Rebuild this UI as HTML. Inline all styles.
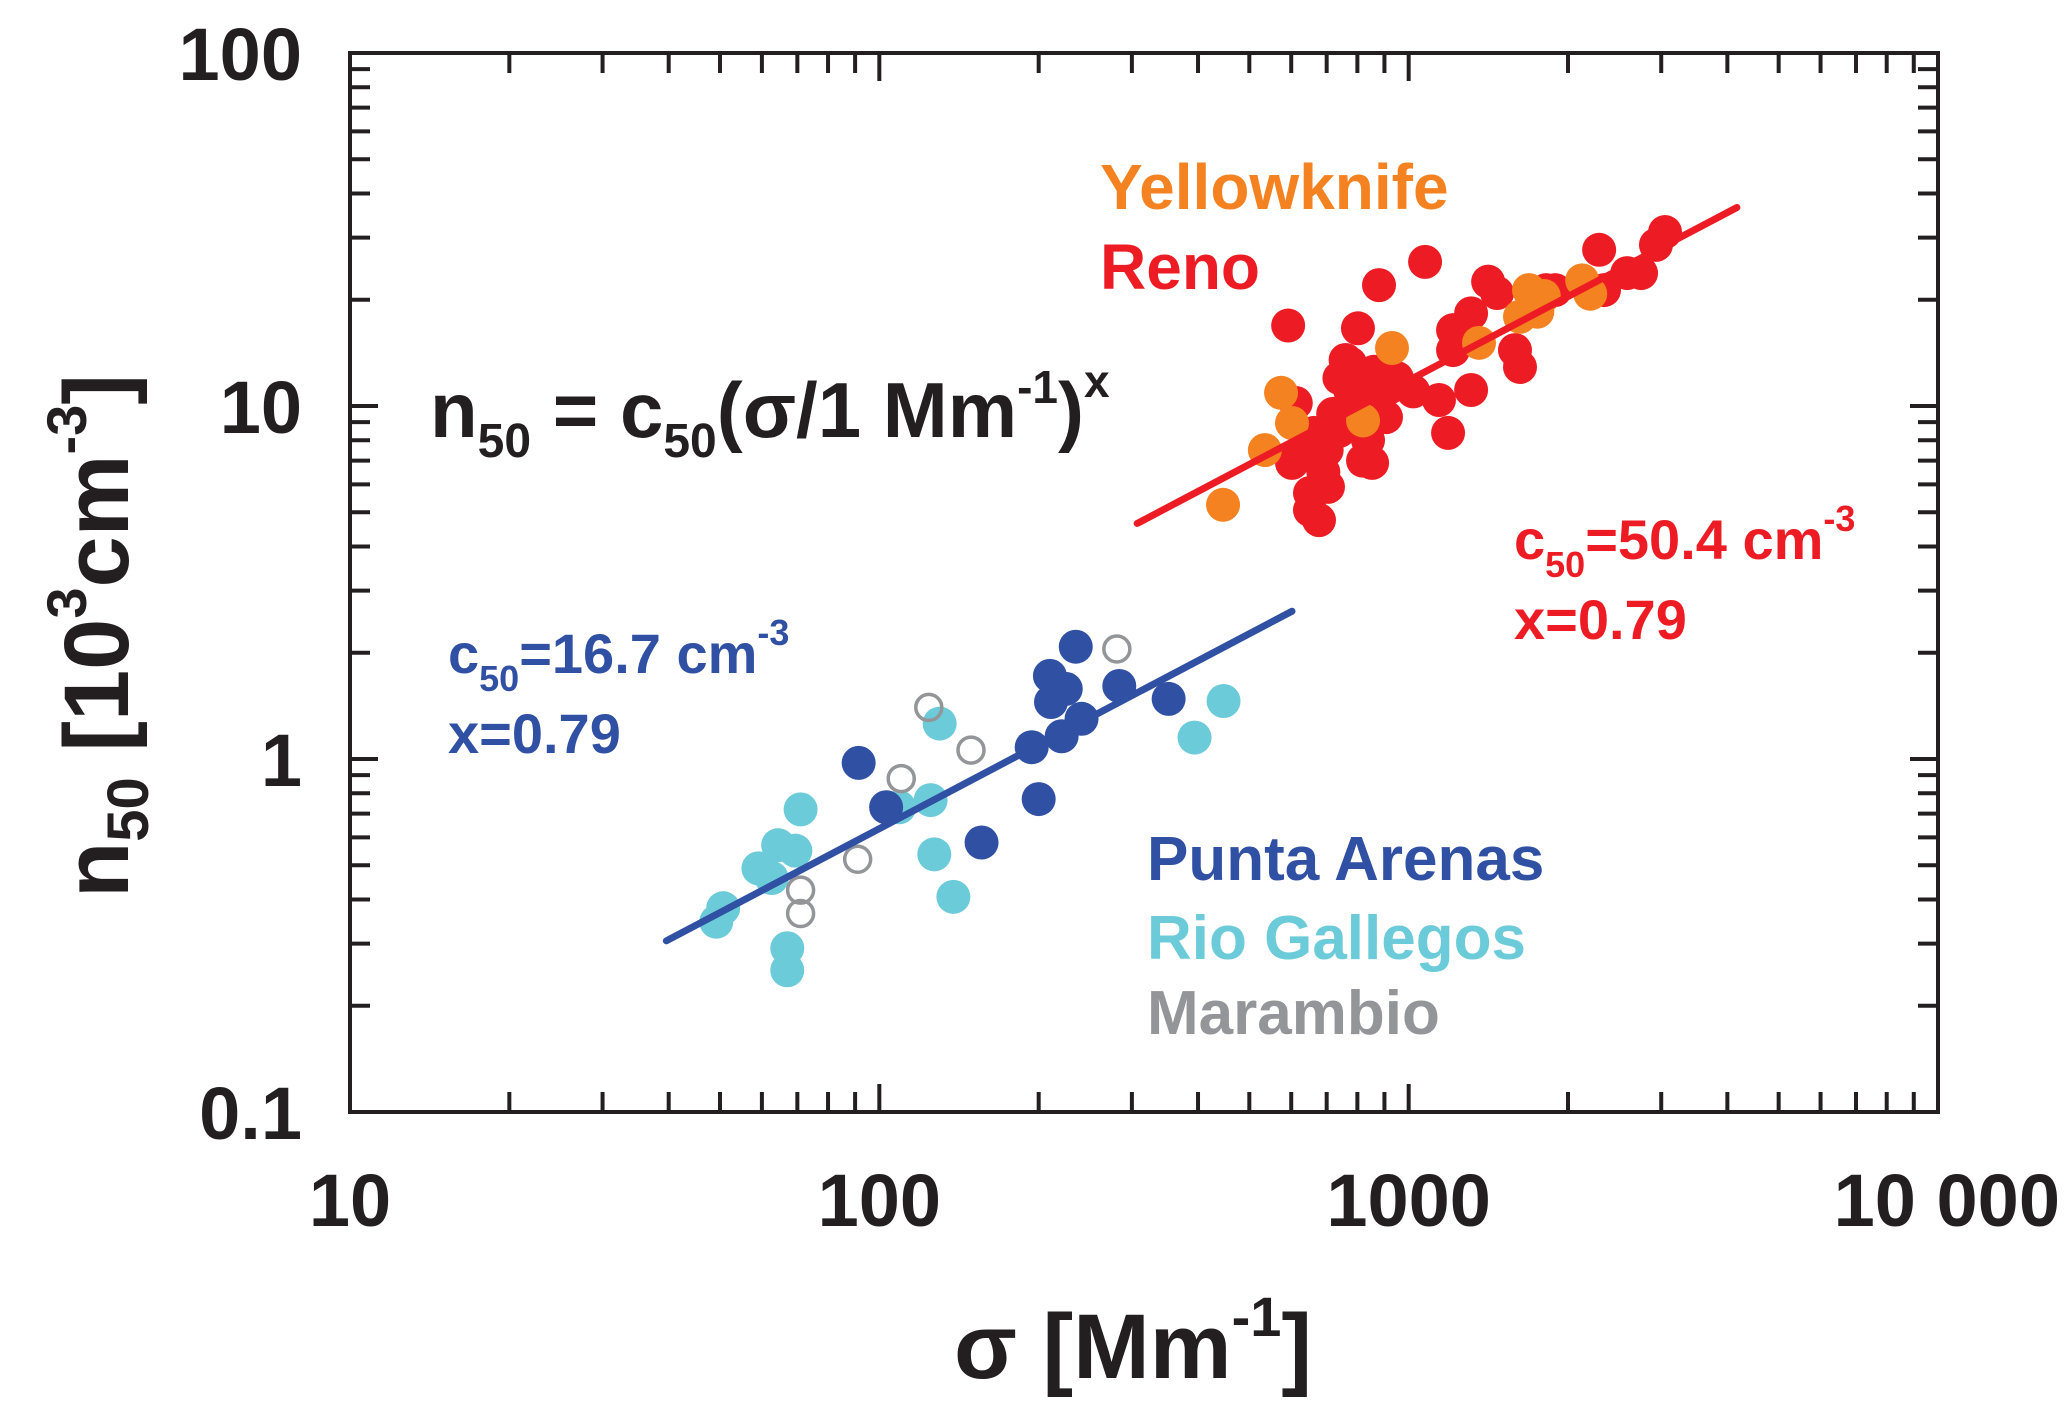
<!DOCTYPE html>
<html><head><meta charset="utf-8"><style>
html,body{margin:0;padding:0;background:#fff;}
svg{display:block;font-family:"Liberation Sans",Arial,sans-serif;font-weight:bold;}
</style></head><body>
<svg id="chart" width="2067" height="1406" viewBox="0 0 2067 1406" xmlns="http://www.w3.org/2000/svg">
<g id="marks"></g>
<rect x="350" y="53" width="1588" height="1059" fill="none" stroke="#231f20" stroke-width="4"/>
<g id="ticks"></g>
<g id="ylabels" font-size="74" fill="#231f20" text-anchor="end"></g>
<g id="xlabels" font-size="74" fill="#231f20" text-anchor="middle"></g>
<text x="1133" y="1378" font-size="92" fill="#231f20" text-anchor="middle">σ [Mm<tspan font-size="56" dy="-42">-1</tspan><tspan dy="42">]</tspan></text>
<text transform="translate(128,636) rotate(-90)" font-size="92" fill="#231f20" text-anchor="middle">n<tspan font-size="58" dy="20">50</tspan><tspan dy="-20"> [10</tspan><tspan font-size="56" dy="-42">3</tspan><tspan dy="42">cm</tspan><tspan font-size="56" dy="-42">-3</tspan><tspan dy="42">]</tspan></text>
<text x="430" y="437" font-size="78" fill="#231f20">n<tspan font-size="48" dy="20">50</tspan><tspan dy="-20"> = c</tspan><tspan font-size="48" dy="20">50</tspan><tspan dy="-20">(σ/1 Mm</tspan><tspan font-size="46" dy="-34">-1</tspan><tspan dy="34">)</tspan><tspan font-size="46" dy="-40">x</tspan></text>
<text x="1100" y="209" font-size="64" fill="#f58220">Yellowknife</text>
<text x="1100" y="289" font-size="64" fill="#ed1c24">Reno</text>
<text x="1514" y="559" font-size="56" fill="#ed1c24">c<tspan font-size="36" dy="18">50</tspan><tspan dy="-18">=50.4 cm</tspan><tspan font-size="36" dy="-28">-3</tspan></text>
<text x="1514" y="639" font-size="56" fill="#ed1c24">x=0.79</text>
<text x="448" y="673" font-size="56" fill="#3050a3">c<tspan font-size="36" dy="18">50</tspan><tspan dy="-18">=16.7 cm</tspan><tspan font-size="36" dy="-28">-3</tspan></text>
<text x="448" y="753" font-size="56" fill="#3050a3">x=0.79</text>
<text x="1147" y="880" font-size="62" fill="#3050a3">Punta Arenas</text>
<text x="1147" y="959" font-size="62" fill="#6ccbd9">Rio Gallegos</text>
<text x="1147" y="1034" font-size="62" fill="#939598">Marambio</text>
</svg>
<script>
const yTickValues = [100, 10, 1, 0.1];
const yTickLabels = ["100", "10", "1", "0.1"];
const xTickValues = [10, 100, 1000, 10000];
const xTickLabels = ["10", "100", "1000", "10 000"];
const renoData = [[1074,25.6],[879,22.0],[592,16.9],[802,16.6],[2290,27.7],[3050,31.1],[2932,28.6],[2748,23.8],[2587,23.8],[1413,22.5],[1469,20.9],[2339,21.3],[1891,21.3],[1312,18.3],[1213,16.4],[1213,14.4],[1588,14.4],[1623,12.9],[1312,11.1],[1141,10.4],[1187,8.39],[775,13.2],[775,11.1],[922,11.3],[906,9.3],[775,8.95],[838,8.0],[853,6.9],[612,10.2],[662,8.39],[602,6.9],[651,5.67],[704,5.9],[651,5.07],[677,4.75],[1818,21.3],[740,12],[800,10],[720,9.5],[860,12.5],[820,7],[700,7.5],[760,13.5],[830,11.5],[880,10.5],[790,9],[740,8.5],[690,6.5],[950,12],[1020,11],[640,7.5]];
const yellowknifeData = [[2127,22.7],[1688,21.3],[1623,17.9],[1358,15.1],[930,14.6],[574,10.9],[602,8.95],[535,7.5],[820,9.1],[446,5.25],[2203,20.8],[1750,18.5],[1800,20.5]];
const puntaData = [[235,2.08],[210,1.72],[225,1.58],[211,1.45],[241,1.30],[221,1.16],[284,1.61],[352,1.48],[91.4,0.975],[103,0.73],[194,1.08],[200,0.77],[156,0.58]];
const rioData = [[447,1.46],[394,1.15],[130,1.26],[71,0.72],[109,0.73],[125,0.765],[64.4,0.57],[69.4,0.55],[59.1,0.49],[62.6,0.46],[50.7,0.378],[49.2,0.346],[67,0.291],[67,0.252],[127,0.537],[138,0.407]];
const marambioData = [[281,2.05],[124,1.40],[149,1.06],[110,0.88],[91,0.52],[71,0.425],[71,0.365]];
const redFit = {c: 50.4, x: 0.79, from: 307, to: 4170};
const blueFit = {c: 16.7, x: 0.79, from: 39.6, to: 602};

const X0=350, X1=1938, Y0=1112, Y1=53;
function sx(v){return X0+(Math.log10(v)-1)/3*(X1-X0);}
function sy(v){return Y0-(Math.log10(v)+1)/3*(Y0-Y1);}
const NS="http://www.w3.org/2000/svg";
function mk(tag, attrs, parent){const e=document.createElementNS(NS,tag);for(const k in attrs)e.setAttribute(k,attrs[k]);parent.appendChild(e);return e;}

const ticks=document.getElementById('ticks');
for(let d=0; d<3; d++){
  for(let m=1;m<=9;m++){
    const xv=Math.pow(10,d+1)*m, yv=Math.pow(10,d-1)*m;
    const L = m===1?28:20;
    const x=sx(xv);
    const t1=mk('line',{x1:x,x2:x,y1:Y0,y2:Y0-L,stroke:'#231f20','stroke-width':4},ticks);
    
    
    const t2=mk('line',{x1:x,x2:x,y1:Y1,y2:Y1+L,stroke:'#231f20','stroke-width':4},ticks);
    
    
    const y=sy(yv);
    const t3=mk('line',{x1:X0,x2:X0+L,y1:y,y2:y,stroke:'#231f20','stroke-width':4},ticks);
    
    
    const t4=mk('line',{x1:X1,x2:X1-L,y1:y,y2:y,stroke:'#231f20','stroke-width':4},ticks);
    
    
  }
}
const yl=document.getElementById('ylabels');
yTickValues.forEach((v,i)=>{const t=mk('text',{x:302,y:sy(v)+27},yl);t.textContent=yTickLabels[i];
  
  });
const xl=document.getElementById('xlabels');
xTickValues.forEach((v,i)=>{let x=sx(v); const t=mk('text',{x:x,y:1226},xl);
  if(i===xTickValues.length-1){t.setAttribute('text-anchor','end');t.setAttribute('x',2060);}
  t.textContent=xTickLabels[i];
  
  });

const marks=document.getElementById('marks');
function fitLine(f,color,name){
  const y=v=>f.c*Math.pow(v,f.x)/1000;
  const l=mk('line',{x1:sx(f.from),y1:sy(y(f.from)),x2:sx(f.to),y2:sy(y(f.to)),stroke:color,'stroke-width':7,'stroke-linecap':'round'},marks);
  
  
}
function pts(data,color,name,open){
  data.forEach(p=>{
    const c=mk('circle',{cx:sx(p[0]),cy:sy(p[1]),r:open?13:17,fill:open?'none':color,stroke:open?color:'none','stroke-width':open?3.5:0},marks);
    
    
  });
}
pts(renoData,'#ed1c24','reno-point');
pts(yellowknifeData,'#f58220','yellowknife-point');
fitLine(redFit,'#ed1c24','reno-fit-line');
pts(rioData,'#6ccbd9','rio-gallegos-point');
pts(puntaData,'#3050a3','punta-arenas-point');
pts(marambioData,'#939598','marambio-point',true);
fitLine(blueFit,'#3050a3','patagonia-fit-line');
</script>
</body></html>
